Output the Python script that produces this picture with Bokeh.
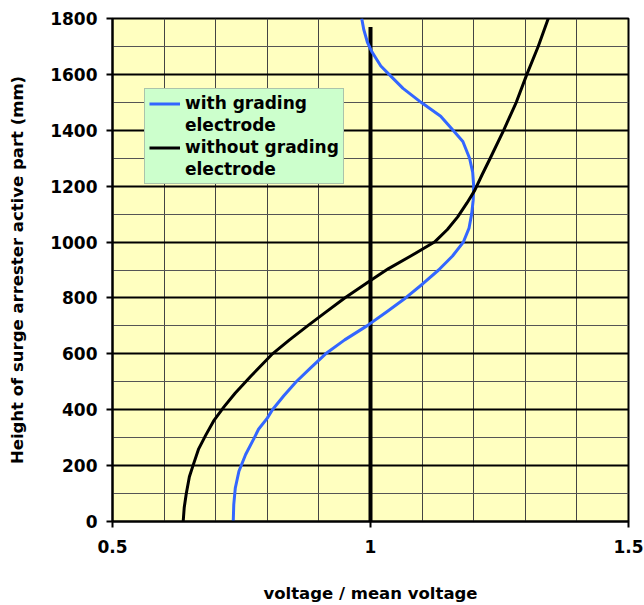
from bokeh.plotting import figure
from bokeh.models import (FixedTicker, Grid, Legend, LegendItem, Range1d)
from bokeh.embed import file_html
from bokeh.resources import INLINE

# Voltage distribution along the active part of a surge arrester
# (voltage / mean voltage vs. height in mm)
height_with = [0, 60, 120, 180, 240, 300, 330, 370, 400, 450, 500, 550, 600,
               650, 700, 750, 800, 850, 900, 950, 1000, 1050, 1100, 1150,
               1200, 1250, 1300, 1360, 1400, 1450, 1500, 1550, 1600, 1630,
               1680, 1715, 1760, 1800]
ratio_with = [0.734, 0.735, 0.738, 0.745, 0.758, 0.775, 0.783, 0.800, 0.810,
              0.832, 0.856, 0.884, 0.913, 0.950, 0.993, 1.031, 1.068, 1.101,
              1.132, 1.159, 1.180, 1.191, 1.196, 1.199, 1.200, 1.198, 1.192,
              1.179, 1.160, 1.136, 1.098, 1.063, 1.036, 1.020, 1.003, 0.994,
              0.987, 0.983]

height_without = [0, 50, 100, 160, 200, 260, 310, 360, 410, 460, 520, 575,
                  600, 650, 700, 750, 800, 862, 905, 950, 1000, 1045, 1090,
                  1140, 1185, 1240, 1300, 1400, 1500, 1600, 1700, 1800]
ratio_without = [0.637, 0.639, 0.643, 0.649, 0.656, 0.667, 0.681, 0.696,
                 0.716, 0.738, 0.768, 0.797, 0.810, 0.843, 0.878, 0.914,
                 0.950, 1.000, 1.035, 1.078, 1.124, 1.149, 1.169, 1.187,
                 1.202, 1.216, 1.232, 1.258, 1.2825, 1.303, 1.325, 1.3445]

# mean voltage reference line
mean_x = [1.0, 1.0]
mean_y = [0, 1770]

x_ticks = [0.5, 1.0, 1.5]
y_ticks = [0, 200, 400, 600, 800, 1000, 1200, 1400, 1600, 1800]
x_grid = [0.6, 0.7, 0.8, 0.9, 1.1, 1.2, 1.3, 1.4]
y_minor = [100, 300, 500, 700, 900, 1100, 1300, 1500, 1700]
y_major = [200, 400, 600, 800, 1000, 1200, 1400, 1600]

FONT = "DejaVu Sans"

p = figure(width=644, height=605, output_backend="svg", toolbar_location=None,
           x_range=Range1d(0.5, 1.5), y_range=Range1d(0, 1800),
           min_border_left=112, min_border_right=16, min_border_top=18,
           min_border_bottom=84, background_fill_color="#ffffc0",
           border_fill_color="white")

p.xgrid.visible = False
p.ygrid.visible = False
p.outline_line_color = "black"
p.outline_line_width = 2

# grid lines
p.add_layout(Grid(dimension=0, ticker=FixedTicker(ticks=x_grid),
                  grid_line_color="#444444", grid_line_width=1), "center")
p.add_layout(Grid(dimension=1, ticker=FixedTicker(ticks=y_minor),
                  grid_line_color="#555555", grid_line_width=1), "center")
p.add_layout(Grid(dimension=1, ticker=FixedTicker(ticks=y_major),
                  grid_line_color="black", grid_line_width=2), "center")

# axes
for ax in (p.xaxis[0], p.yaxis[0]):
    ax.axis_line_color = "black"
    ax.axis_line_width = 2
    ax.major_tick_line_color = "black"
    ax.major_tick_line_width = 2
    ax.major_tick_in = 0
    ax.major_tick_out = 6
    ax.minor_tick_line_color = None
    ax.major_label_text_font = FONT
    ax.major_label_text_font_style = "bold"
    ax.major_label_text_font_size = "17px"
    ax.major_label_text_color = "black"
    ax.axis_label_text_font = FONT
    ax.axis_label_text_font_style = "bold"
    ax.axis_label_text_font_size = "16.5px"
    ax.axis_label_text_color = "black"

p.xaxis.ticker = FixedTicker(ticks=x_ticks)
p.xaxis.major_label_overrides = {0.5: "0.5", 1.0: "1", 1.5: "1.5"}
p.xaxis.major_label_standoff = 12
p.xaxis.axis_label = "voltage / mean voltage"
p.xaxis.axis_label_standoff = 28

p.yaxis.ticker = FixedTicker(ticks=y_ticks)
p.yaxis.major_label_standoff = 9
p.yaxis.axis_label = "Height of surge arrester active part (mm)"
p.yaxis.axis_label_standoff = 20

# data
mean_r = p.line(mean_x, mean_y, line_color="black", line_width=4)
with_r = p.line(ratio_with, height_with, line_color="#3366ff", line_width=3,
                line_join="round")
without_r = p.line(ratio_without, height_without, line_color="black",
                   line_width=3, line_join="round")

# legend: each series label wraps onto a second row without a glyph
legend = Legend(items=[
    LegendItem(label="with grading", renderers=[with_r]),
    LegendItem(label="electrode", renderers=[]),
    LegendItem(label="without grading", renderers=[without_r]),
    LegendItem(label="electrode", renderers=[]),
], location=(32, 337))
legend.background_fill_color = "#ccffcc"
legend.background_fill_alpha = 1
legend.border_line_color = "#8a8a8a"
legend.border_line_width = 1
legend.label_text_font = FONT
legend.label_text_font_style = "bold"
legend.label_text_font_size = "17px"
legend.label_text_color = "black"
legend.glyph_width = 31
legend.glyph_height = 19
legend.label_height = 19
legend.label_standoff = 5
legend.padding = 4
legend.spacing = 2
legend.margin = 0
p.add_layout(legend, "center")

open("out.html", "w").write(file_html(p, INLINE))
